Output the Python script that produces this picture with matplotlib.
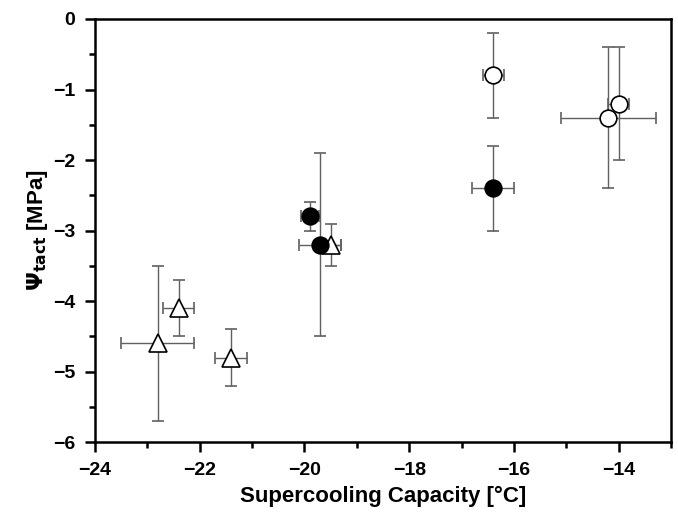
import matplotlib
matplotlib.use("Agg")
import matplotlib.pyplot as plt
from matplotlib.ticker import MultipleLocator

plt.rcParams['font.family'] = ['Liberation Sans', 'DejaVu Sans']
plt.rcParams['font.weight'] = 'bold'

# filled circles
fc_x = [-19.9, -19.7, -16.4]
fc_y = [-2.8, -3.2, -2.4]
fc_xerr = [0.17, 0.4, 0.4]
fc_yerr_lo = [0.2, 1.3, 0.6]
fc_yerr_hi = [0.2, 1.3, 0.6]

# open circles
oc_x = [-16.4, -14.2, -14.0]
oc_y = [-0.8, -1.4, -1.2]
oc_xerr = [0.2, 0.9, 0.2]
oc_yerr_lo = [0.6, 1.0, 0.8]
oc_yerr_hi = [0.6, 1.0, 0.8]

# open triangles
tr_x = [-22.8, -22.4, -21.4, -19.5]
tr_y = [-4.6, -4.1, -4.8, -3.2]
tr_xerr = [0.7, 0.3, 0.3, 0.2]
tr_yerr_lo = [1.1, 0.4, 0.4, 0.3]
tr_yerr_hi = [1.1, 0.4, 0.4, 0.3]

fig = plt.figure(figsize=(6.78, 5.13), dpi=100)
ax = fig.add_axes([0.140, 0.138, 0.850, 0.825])

eb = dict(ecolor='#606060', elinewidth=1.0, capsize=4, capthick=1.0, linestyle='none')

ax.errorbar(tr_x, tr_y, xerr=tr_xerr, yerr=[tr_yerr_lo, tr_yerr_hi], marker='^', ms=13,
            mfc='white', mec='black', mew=1.2, zorder=3, **eb)
ax.errorbar(fc_x, fc_y, xerr=fc_xerr, yerr=[fc_yerr_lo, fc_yerr_hi], marker='o', ms=12,
            mfc='black', mec='black', mew=1.2, zorder=3, **eb)
ax.errorbar(oc_x, oc_y, xerr=oc_xerr, yerr=[oc_yerr_lo, oc_yerr_hi], marker='o', ms=12,
            mfc='white', mec='black', mew=1.2, zorder=3, **eb)

ax.set_xlim(-24, -13)
ax.set_ylim(-6, 0)
ax.xaxis.set_major_locator(MultipleLocator(2))
ax.xaxis.set_minor_locator(MultipleLocator(1))
ax.yaxis.set_major_locator(MultipleLocator(1))
ax.yaxis.set_minor_locator(MultipleLocator(0.5))

for s in ax.spines.values():
    s.set_linewidth(1.8)
ax.tick_params(which='both', direction='out', width=1.8, top=False, right=False)
ax.tick_params(which='major', length=7, labelsize=14, pad=7)
ax.tick_params(which='minor', length=4)

ax.set_xlabel('Supercooling Capacity [°C]', fontsize=16, fontweight='bold', labelpad=5)
ax.set_ylabel(r'$\Psi_{\mathbf{tact}}$ [MPa]', fontsize=16, fontweight='bold', labelpad=2)

fig.savefig('out.png', dpi=100)
